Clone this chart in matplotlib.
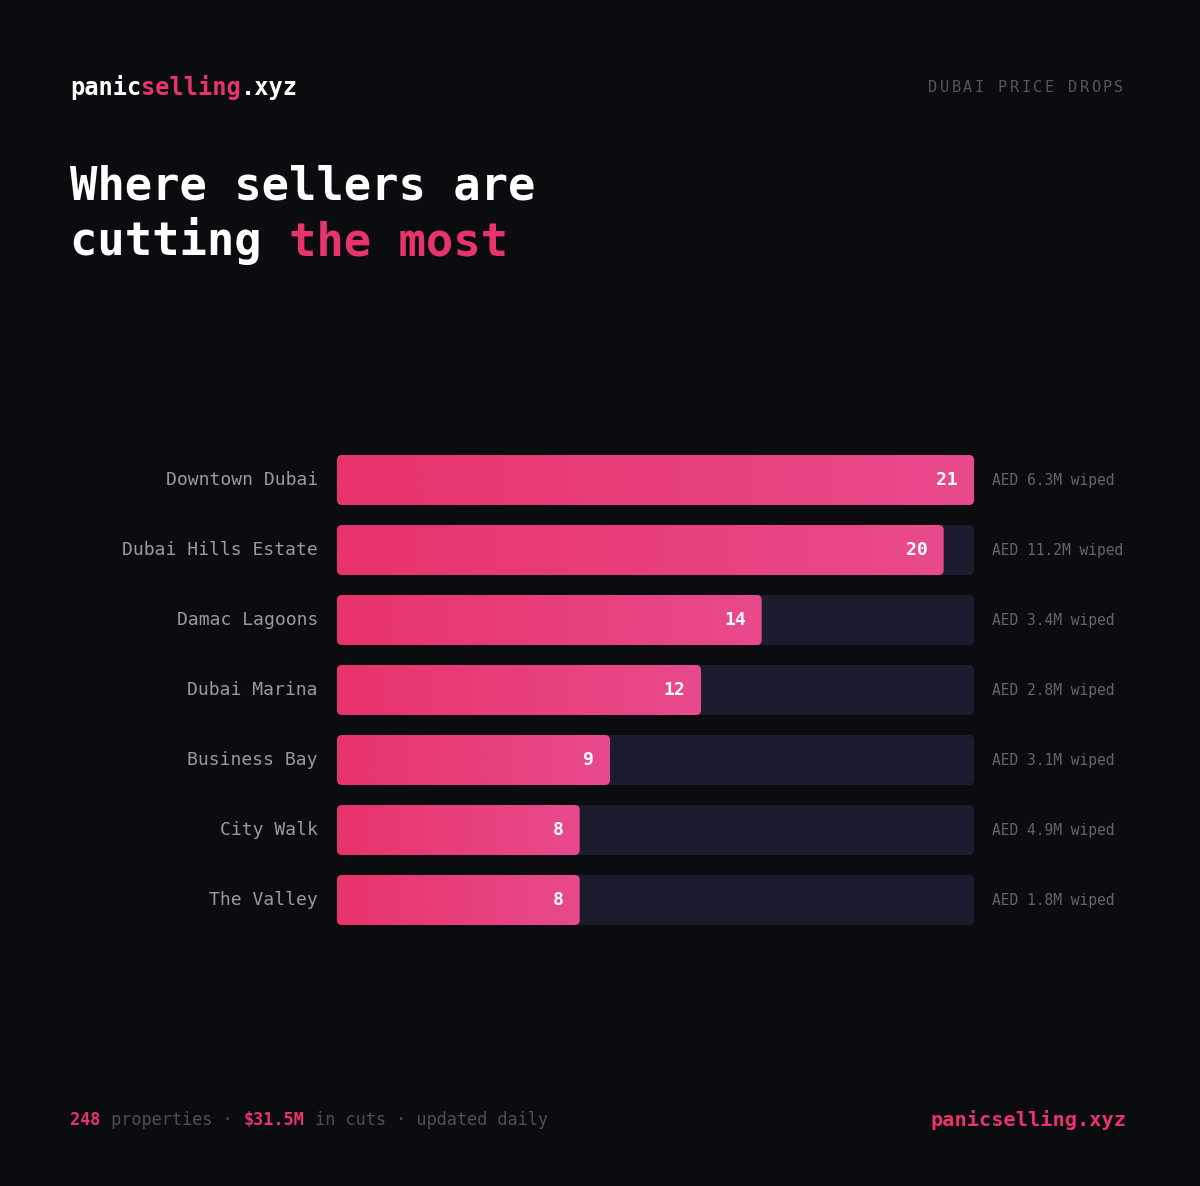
import numpy as np
import matplotlib.pyplot as plt
from matplotlib.patches import FancyBboxPatch
from matplotlib.colors import LinearSegmentedColormap

areas = ['Downtown Dubai', 'Dubai Hills Estate', 'Damac Lagoons', 'Dubai Marina',
         'Business Bay', 'City Walk', 'The Valley']
cuts = [21, 20, 14, 12, 9, 8, 8]
wiped = ['AED 6.3M wiped', 'AED 11.2M wiped', 'AED 3.4M wiped', 'AED 2.8M wiped',
         'AED 3.1M wiped', 'AED 4.9M wiped', 'AED 1.8M wiped']
total_props = '248'
total_cuts = '$31.5M'

BG = '#0b0c10'
TRACK = '#1b1c2d'
PINK = '#e8336b'
PINK2 = '#e84a8c'
GREY = '#4f5057'
W, H, DPI = 1200, 1186, 100

plt.rcParams['font.family'] = 'DejaVu Sans Mono'

fig = plt.figure(figsize=(W / DPI, H / DPI), dpi=DPI, facecolor=BG)

# background axes in pixel coords for the text around the chart
bg = fig.add_axes([0, 0, 1, 1])
bg.set_xlim(0, W)
bg.set_ylim(H, 0)
bg.axis('off')


def adv(size):
    # monospace advance width in pixels
    return 0.6021 * size * DPI / 72


def pieces(x, y, parts, size, va='center'):
    # parts: (text, colour, weight)
    for txt, col, wt in parts:
        bg.text(x, y, txt, color=col, fontsize=size, fontweight=wt, va=va, ha='left')
        x += adv(size) * len(txt)


pieces(70, 88, [('panic', '#ffffff', 'bold'), ('selling', PINK, 'bold'),
                ('.xyz', '#ffffff', 'bold')], 17)

# letter-spaced kicker
kick = 'DUBAI PRICE DROPS'
step = (1126 - 928) / len(kick)
for i, ch in enumerate(kick):
    bg.text(928 + i * step, 88, ch, color='#55565d', fontsize=11, va='center', ha='left')

pieces(70, 200, [('Where sellers are', '#ffffff', 'bold')], 32.8, va='baseline')
pieces(70, 255, [('cutting ', '#ffffff', 'bold'), ('the most', PINK, 'bold')], 32.8, va='baseline')

pieces(70, 1120, [(total_props, PINK, 'bold'), (' properties · ', GREY, 'normal'),
                  (total_cuts, PINK, 'bold'), (' in cuts · updated daily', GREY, 'normal')], 12.2)

bg.text(1127, 1120, 'panicselling.xyz', color=PINK, fontsize=14.6, fontweight='bold',
        va='center', ha='right')

# bar chart axes
left, right = 337, 974
top, bottom = 445, 935
ax = fig.add_axes([left / W, 1 - bottom / H, (right - left) / W, (bottom - top) / H])
ax.set_facecolor('none')
vmax = max(cuts)

bh = 50 / 70
xpx = vmax / (right - left)
rad = 5 * xpx
asp = (1 / 70) / xpx

grad = np.linspace(0, 1, 256)[None, :]
cmap = LinearSegmentedColormap.from_list('p', [PINK, PINK2])

for i, (name, v, wtxt) in enumerate(zip(areas, cuts, wiped)):
    track = FancyBboxPatch((0, i - bh / 2), vmax, bh,
                           boxstyle=f'round,pad=0,rounding_size={rad}',
                           mutation_aspect=asp, fc=TRACK, ec='none', zorder=1)
    ax.add_patch(track)
    bar = FancyBboxPatch((0, i - bh / 2), v, bh,
                         boxstyle=f'round,pad=0,rounding_size={rad}',
                         mutation_aspect=asp, fc='none', ec='none', zorder=2)
    ax.add_patch(bar)
    im = ax.imshow(grad, cmap=cmap, aspect='auto',
                   extent=(0, v, i + bh / 2, i - bh / 2), zorder=2)
    im.set_clip_path(bar)
    ax.annotate(str(v), xy=(v, i), xytext=(-11.5, 0), textcoords='offset points',
                ha='right', va='center', color='#ffffff', fontsize=13, fontweight='bold', zorder=3)
    ax.annotate(name, xy=(0, i), xytext=(-13.7, 0), textcoords='offset points',
                ha='right', va='center', color='#9a9aa0', fontsize=13, annotation_clip=False)
    ax.annotate(wtxt, xy=(vmax, i), xytext=(13, 0), textcoords='offset points',
                ha='left', va='center', color='#64656c', fontsize=10.5, annotation_clip=False)

ax.set_xlim(0, vmax)
ax.set_ylim(len(areas) - 0.5, -0.5)
ax.axis('off')

fig.savefig('out.png', dpi=DPI, facecolor=BG)
